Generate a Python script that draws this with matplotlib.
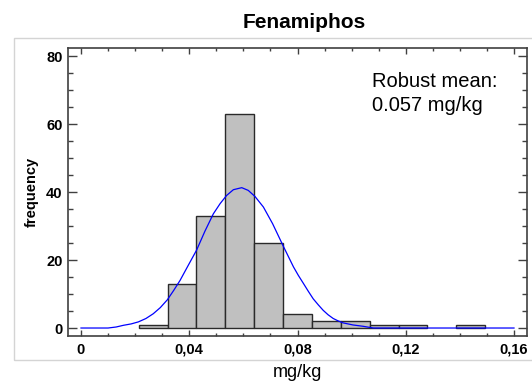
import matplotlib
matplotlib.use("Agg")
import matplotlib.pyplot as plt
import numpy as np
from matplotlib.patches import Rectangle
from matplotlib.ticker import FuncFormatter, MultipleLocator

# ------------------------------------------------------------
# data
# ------------------------------------------------------------
BIN_LO = 0.0
BIN_HI = 0.16
N_BINS = 15
COUNTS = [0, 0, 1, 13, 33, 63, 25, 4, 2, 2, 1, 1, 0, 1, 0]

# fitted density curve (scaled to counts), read point by point
CURVE_X = [0.0, 0.0100, 0.0130, 0.0157, 0.0185, 0.0212, 0.0240, 0.0267,
           0.0293, 0.0319, 0.0342, 0.0366, 0.0396, 0.0427, 0.0458, 0.0489,
           0.0514, 0.0538, 0.0563, 0.0594, 0.0618, 0.0643, 0.0674, 0.0708,
           0.0748, 0.0785, 0.0803, 0.0822, 0.0840, 0.0858, 0.0877, 0.0895,
           0.0913, 0.0932, 0.0950, 0.0969, 0.1005, 0.1043, 0.1080, 0.1600]
CURVE_Y = [0.0, 0.0, 0.3, 0.8, 1.2, 1.8, 2.8, 4.2,
           6.0, 8.3, 11.0, 14.0, 18.4, 22.9, 28.5, 33.6,
           36.6, 39.0, 40.7, 41.3, 40.5, 38.7, 35.6, 30.7,
           24.0, 18.0, 15.5, 13.1, 10.8, 8.6, 6.8, 5.2,
           3.9, 2.8, 2.1, 1.5, 0.9, 0.5, 0.0, 0.0]

TITLE = "Fenamiphos"
X_LABEL = "mg/kg"
Y_LABEL = "frequency"
NOTE = "Robust mean:\n0.057 mg/kg"

# ------------------------------------------------------------
# styling
# ------------------------------------------------------------
BAR_FILL = "#c0c0c0"
BAR_EDGE = "#2a2a2a"
CURVE_COLOR = "#0000ff"
SPINE_COLOR = "#404040"

plt.rcParams["font.family"] = ["Liberation Sans", "DejaVu Sans"]


def comma_fmt(v, _pos):
    if abs(v) < 1e-12:
        return "0"
    return f"{v:.2f}".replace(".", ",")


fig = plt.figure(figsize=(5.32, 3.83), dpi=100)
ax = fig.add_axes([68 / 532, 1 - 336 / 383, (527 - 68) / 532, (336 - 48) / 383])

# light outer frame around the chart area
fig.patches.append(Rectangle((14 / 532, 1 - 360 / 383), 1.0, (360 - 38) / 383,
                             transform=fig.transFigure, fill=False,
                             edgecolor="#d4d4d4", linewidth=1.0, zorder=0))

edges = np.linspace(BIN_LO, BIN_HI, N_BINS + 1)
width = edges[1] - edges[0]
for left, c in zip(edges[:-1], COUNTS):
    if c > 0:
        ax.bar(left, c, width=width, align="edge", color=BAR_FILL,
               edgecolor=BAR_EDGE, linewidth=1.0, zorder=2)

ax.plot(CURVE_X, CURVE_Y, color=CURVE_COLOR, linewidth=0.9, zorder=3,
        solid_joinstyle="round")

ax.set_xlim(-0.0048, 0.1648)
ax.set_ylim(-2.35, 82.4)

ax.xaxis.set_major_locator(MultipleLocator(0.04))
ax.xaxis.set_minor_locator(MultipleLocator(0.01))
ax.yaxis.set_major_locator(MultipleLocator(20))
ax.yaxis.set_minor_locator(MultipleLocator(5))
ax.xaxis.set_major_formatter(FuncFormatter(comma_fmt))

ax.tick_params(axis="both", which="both", direction="in", top=True, right=True,
               color=SPINE_COLOR, width=1.0)
ax.tick_params(axis="x", which="major", length=4.5, pad=5)
ax.tick_params(axis="x", which="minor", length=2.0)
ax.tick_params(axis="y", which="major", length=6.5, pad=4)
ax.tick_params(axis="y", which="minor", length=3.3)
for lbl in ax.get_xticklabels() + ax.get_yticklabels():
    lbl.set_fontweight("bold")
    lbl.set_fontsize(10.5)

for sp in ax.spines.values():
    sp.set_color(SPINE_COLOR)
    sp.set_linewidth(1.2)

ax.set_xlabel(X_LABEL, fontsize=13, labelpad=5)
ax.set_ylabel(Y_LABEL, fontsize=10.5, fontweight="bold", labelpad=5)
fig.text(304 / 532, 1 - 23 / 383, TITLE, fontsize=15, fontweight="bold",
         ha="center", va="center")
ax.text(0.662, 0.915, NOTE, transform=ax.transAxes, fontsize=14.5,
        ha="left", va="top", linespacing=1.3)

fig.savefig("out.png", dpi=100)
